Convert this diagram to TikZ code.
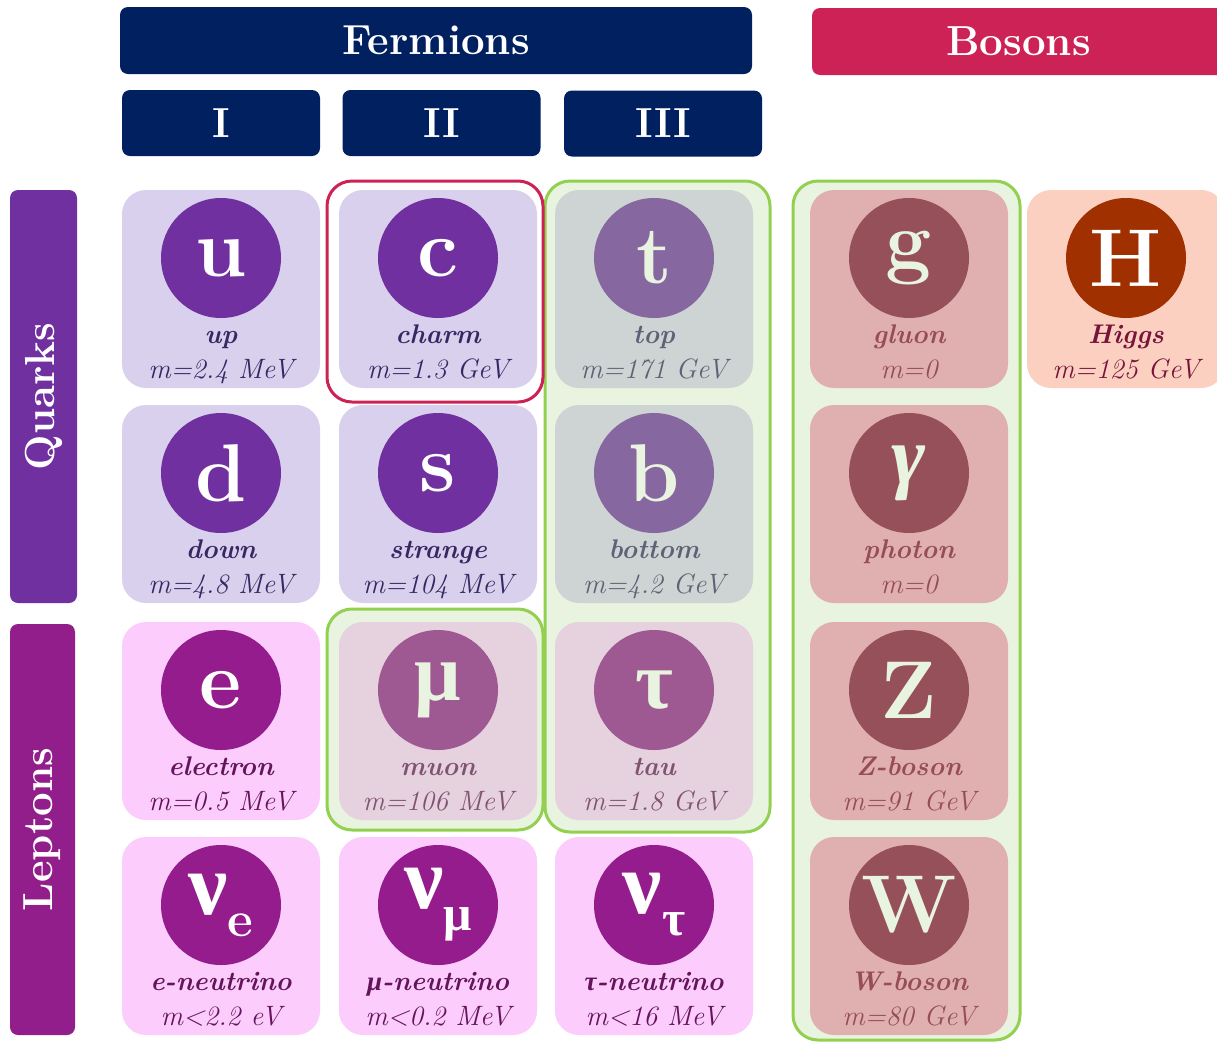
\documentclass[tikz,border=0pt]{standalone}
\usepackage{fontspec}
\newfontfamily\greekfont{Liberation Serif}
\definecolor{navy}{RGB}{0,32,96}
\definecolor{crimson}{RGB}{204,34,85}
\definecolor{qbar}{RGB}{112,48,160}
\definecolor{lbar}{RGB}{146,30,140}
\definecolor{qcell}{RGB}{216,208,236}
\definecolor{qcirc}{RGB}{112,48,160}
\definecolor{qtext}{RGB}{55,40,100}
\definecolor{lcell}{RGB}{252,204,252}
\definecolor{lcirc}{RGB}{148,28,140}
\definecolor{ltext}{RGB}{100,20,90}
\definecolor{bcell}{RGB}{243,156,184}
\definecolor{bcirc}{RGB}{134,15,57}
\definecolor{btext}{RGB}{134,10,50}
\definecolor{hcell}{RGB}{252,208,192}
\definecolor{hcirc}{RGB}{160,48,0}
\definecolor{htext}{RGB}{120,20,60}
\definecolor{gbord}{RGB}{146,208,80}
\definecolor{gfill}{RGB}{185,220,160}
\tikzset{
  cellbox/.style={rectangle, rounded corners=24pt, minimum width=198pt, minimum height=198pt, inner sep=0pt},
  ball/.style={circle, minimum size=120pt, inner sep=0pt, text=white, font=\fontsize{82}{82}\selectfont\bfseries},
  pname/.style={anchor=base, inner sep=0pt, font=\fontsize{27}{27}\selectfont\bfseries\itshape},
  pmass/.style={anchor=base, inner sep=0pt, font=\fontsize{28}{28}\selectfont\itshape},
  hdr/.style={rectangle, rounded corners=8pt, inner sep=0pt, text=white, font=\fontsize{42}{42}\selectfont\bfseries},
  gbox/.style={rectangle, rounded corners=25pt, draw=gbord, line width=3pt, fill=gfill, fill opacity=0.32, inner sep=0pt},
  rbox/.style={rectangle, rounded corners=25pt, draw=crimson, line width=3pt, inner sep=0pt},
}
\newcommand\particle[7]{%
  \node[cellbox, fill=#4cell] (#1) at (#2,#3+99) {};
  \node[ball, fill=#4circ] (#1b) at (#2,#3+68) {#5};
  \node[pname, text=#4text] (#1n) at (#2,#3+153) {#6};
  \node[pmass, text=#4text] (#1m) at (#2,#3+188) {#7};
}
\newcommand\nusym[1]{{\greekfont\fontsize{88}{88}\selectfont ν}\raisebox{-22pt}{\fontsize{50}{50}\selectfont #1}}
\begin{document}
\begin{tikzpicture}[x=1pt,y=-1pt]
\useasboundingbox (0,0) rectangle (1217,1042);
\clip (0,0) rectangle (1217,1042);
\fill[white] (0,0) rectangle (1217,1042);
% headers
\node[hdr, fill=navy, minimum width=632pt, minimum height=67pt] (ferm) at (436,40.5) {Fermions};
\node[hdr, fill=crimson, minimum width=413pt, minimum height=67pt] (bos) at (1018.5,41.5) {Bosons};
\node[hdr, fill=navy, minimum width=198pt, minimum height=66pt] (gI) at (221,123) {I};
\node[hdr, fill=navy, minimum width=198pt, minimum height=66pt] (gII) at (441.5,123) {II};
\node[hdr, fill=navy, minimum width=198pt, minimum height=66pt] (gIII) at (663,123.5) {III};
\node[hdr, fill=qbar, minimum width=413pt, minimum height=67pt, rotate=90] (quarks) at (43.5,396.5) {Quarks};
\node[hdr, fill=lbar, minimum width=411pt, minimum height=65pt, rotate=90] (leptons) at (42.5,829.5) {Leptons};
% particles
\particle{u}{221}{190}{q}{u}{up}{m=2.4 MeV}
\particle{c}{438}{190}{q}{c}{charm}{m=1.3 GeV}
\particle{t}{654}{190}{q}{t}{top}{m=171 GeV}
\particle{d}{221}{405}{q}{d}{down}{m=4.8 MeV}
\particle{s}{438}{405}{q}{s}{strange}{m=104 MeV}
\particle{b}{654}{405}{q}{b}{bottom}{m=4.2 GeV}
\particle{e}{221}{622}{l}{e}{electron}{m=0.5 MeV}
\particle{mu}{438}{622}{l}{{\greekfont μ}}{muon}{m=106 MeV}
\particle{tau}{654}{622}{l}{{\greekfont τ}}{tau}{m=1.8 GeV}
\particle{ne}{221}{837}{l}{\nusym{e}}{e-neutrino}{m<2.2 eV}
\particle{nm}{438}{837}{l}{\nusym{\greekfont μ}}{{\greekfont\bfseries\itshape μ}-neutrino}{m<0.2 MeV}
\particle{nt}{654}{837}{l}{\nusym{\greekfont τ}}{{\greekfont\bfseries\itshape τ}-neutrino}{m<16 MeV}
\particle{g}{909}{190}{b}{g}{gluon}{m=0}
\particle{ph}{909}{405}{b}{{\greekfont\itshape γ}}{photon}{m=0}
\particle{Z}{909}{622}{b}{Z}{Z-boson}{m=91 GeV}
\particle{W}{909}{837}{b}{W}{W-boson}{m=80 GeV}
\particle{H}{1126}{190}{h}{H}{Higgs}{m=125 GeV}
% group frames
\node[gbox, minimum width=225pt, minimum height=651pt] (gen3box) at (657.5,506.5) {};
\node[gbox, minimum width=227pt, minimum height=859pt] (bosbox) at (906.5,610.5) {};
\node[gbox, minimum width=216pt, minimum height=221pt] (mubox) at (435,719.5) {};
\node[rbox, minimum width=216pt, minimum height=221pt] (cbox) at (435,291.5) {};
\end{tikzpicture}
\end{document}
